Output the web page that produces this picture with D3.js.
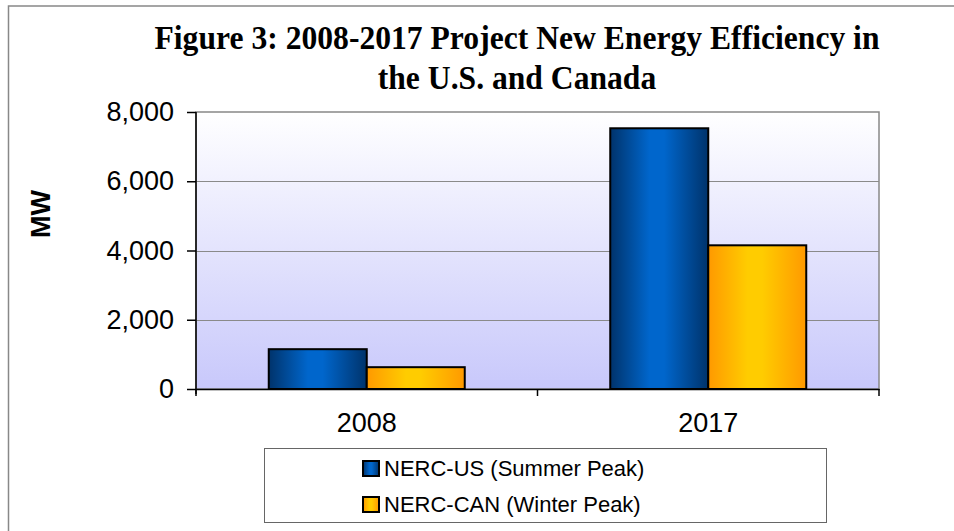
<!DOCTYPE html>
<html>
<head>
<meta charset="utf-8">
<script src="https://cdn.jsdelivr.net/npm/d3@7"></script>
<style>
  body { margin: 0; background: #fff; overflow: hidden; }
  svg { display: block; }
</style>
</head>
<body>
<div id="chart"></div>
<script>
// chart values
const years = ['2008', '2017'];
const seriesNames = ['NERC-US (Summer Peak)', 'NERC-CAN (Winter Peak)'];
const usValues = [1150, 7530];
const canValues = [630, 4150];
const yTicks = [0, 2000, 4000, 6000, 8000];
const titleLines = ['Figure 3: 2008-2017 Project New Energy Efficiency in', 'the U.S. and Canada'];

const width = 954, height = 531;
const plot = { left: 196, top: 112, right: 879, bottom: 389 };
const sans = 'Liberation Sans, Arial, sans-serif';

const svg = d3.select('#chart').append('svg')
	.attr('width', width)
	.attr('height', height);

const defs = svg.append('defs');

const bg = defs.append('linearGradient')
	.attr('id', 'plotBg')
	.attr('x1', 0).attr('y1', 0).attr('x2', 0).attr('y2', 1);
bg.append('stop').attr('offset', '0%').attr('stop-color', '#ffffff');
bg.append('stop').attr('offset', '100%').attr('stop-color', '#c8c8fb');

function barGradient(id, edge, mid) {
	const g = defs.append('linearGradient')
		.attr('id', id)
		.attr('x1', 0).attr('y1', 0).attr('x2', 1).attr('y2', 0);
	g.append('stop').attr('offset', '0%').attr('stop-color', edge);
	g.append('stop').attr('offset', '40%').attr('stop-color', mid);
	g.append('stop').attr('offset', '55%').attr('stop-color', mid);
	g.append('stop').attr('offset', '100%').attr('stop-color', edge);
}
barGradient('gradUS', '#00336b', '#0066cc');
barGradient('gradCAN', '#ff9900', '#ffcc00');
const fills = ['url(#gradUS)', 'url(#gradCAN)'];

// outer frame (right and bottom edges run off the page)
svg.append('rect')
	.attr('x', 8.5).attr('y', 6)
	.attr('width', 960).attr('height', 540)
	.attr('fill', 'none')
	.attr('stroke', '#888')
	.attr('stroke-width', 1.5);

// title, slightly condensed like the original
svg.append('g').selectAll('text')
	.data(titleLines)
	.enter().append('text')
	.attr('transform', (d, i) => `translate(517,${49 + i * 40}) scale(0.93,1)`)
	.attr('text-anchor', 'middle')
	.attr('font-family', 'Liberation Serif, Times New Roman, serif')
	.attr('font-weight', 'bold')
	.attr('font-size', '34px')
	.text(d => d);

const x0 = d3.scaleBand()
	.domain(years)
	.range([plot.left, plot.right]);

const barW = 98;
const x1 = d3.scaleBand()
	.domain([0, 1])
	.range([0, barW * 2]);

const y = d3.scaleLinear()
	.domain([0, 8000])
	.range([plot.bottom, plot.top]);

// plot background
svg.append('rect')
	.attr('x', plot.left).attr('y', plot.top)
	.attr('width', plot.right - plot.left)
	.attr('height', plot.bottom - plot.top)
	.attr('fill', 'url(#plotBg)')
	.attr('stroke', '#888')
	.attr('stroke-width', 1.5);

// gridlines
svg.append('g').selectAll('line')
	.data(yTicks.filter(d => d > 0 && d < 8000))
	.enter().append('line')
	.attr('x1', plot.left).attr('x2', plot.right)
	.attr('y1', d => Math.round(y(d)) + 0.5)
	.attr('y2', d => Math.round(y(d)) + 0.5)
	.attr('stroke', '#8a8a8a')
	.attr('stroke-width', 1);

// bars
const rows = years.map((yr, i) => ({ year: yr, values: [usValues[i], canValues[i]] }));
const groups = svg.append('g').selectAll('g')
	.data(rows)
	.enter().append('g')
	.attr('transform', d => `translate(${x0(d.year) + (x0.bandwidth() - barW * 2) / 2},0)`);

groups.selectAll('rect')
	.data(d => d.values)
	.enter().append('rect')
	.attr('x', (d, i) => x1(i))
	.attr('y', d => y(d))
	.attr('width', x1.bandwidth())
	.attr('height', d => y(0) - y(d))
	.attr('fill', (d, i) => fills[i])
	.attr('stroke', '#000')
	.attr('stroke-width', 2);

// y axis
const yAxis = svg.append('g')
	.attr('transform', `translate(${plot.left},0)`)
	.call(d3.axisLeft(y)
		.tickValues(yTicks)
		.tickFormat(d3.format(','))
		.tickSize(9)
		.tickPadding(13));
yAxis.select('.domain').attr('d', `M0,${plot.top}V${plot.bottom + 5}`).attr('stroke', '#000').attr('stroke-width', 1.5);
yAxis.selectAll('.tick line').attr('stroke', '#000').attr('stroke-width', 1.5);
yAxis.selectAll('text')
	.attr('font-family', sans)
	.attr('font-size', '27px')
	.attr('fill', '#000');

// x axis
const xAxis = svg.append('g')
	.attr('transform', `translate(0,${plot.bottom})`)
	.call(d3.axisBottom(x0).tickSize(0).tickPadding(24));
xAxis.select('.domain').attr('stroke', '#000').attr('stroke-width', 1.5);
xAxis.selectAll('text')
	.attr('font-family', sans)
	.attr('font-size', '27px')
	.attr('fill', '#000');
xAxis.append('g').selectAll('line')
	.data([years[0], years[1], null])
	.enter().append('line')
	.attr('x1', d => d === null ? plot.right : x0(d))
	.attr('x2', d => d === null ? plot.right : x0(d))
	.attr('y1', 0).attr('y2', 7)
	.attr('stroke', '#000')
	.attr('stroke-width', 1.5);

// y label
svg.append('text')
	.attr('transform', 'translate(50,214) rotate(-90)')
	.attr('text-anchor', 'middle')
	.attr('font-family', sans)
	.attr('font-weight', 'bold')
	.attr('font-size', '27px')
	.text('MW');

// legend
const legend = svg.append('g');
legend.append('rect')
	.attr('x', 264.5).attr('y', 448.5)
	.attr('width', 562).attr('height', 74)
	.attr('fill', '#fff')
	.attr('stroke', '#666')
	.attr('stroke-width', 1);

const items = legend.selectAll('g')
	.data(seriesNames)
	.enter().append('g')
	.attr('transform', (d, i) => `translate(363,${476 + i * 36})`);
items.append('rect')
	.attr('x', 0).attr('y', -15)
	.attr('width', 16).attr('height', 15)
	.attr('fill', (d, i) => fills[i])
	.attr('stroke', '#000')
	.attr('stroke-width', 2);
items.append('text')
	.attr('x', 21)
	.attr('y', 0)
	.attr('font-family', sans)
	.attr('font-size', '22px')
	.text(d => d);
</script>
</body>
</html>
